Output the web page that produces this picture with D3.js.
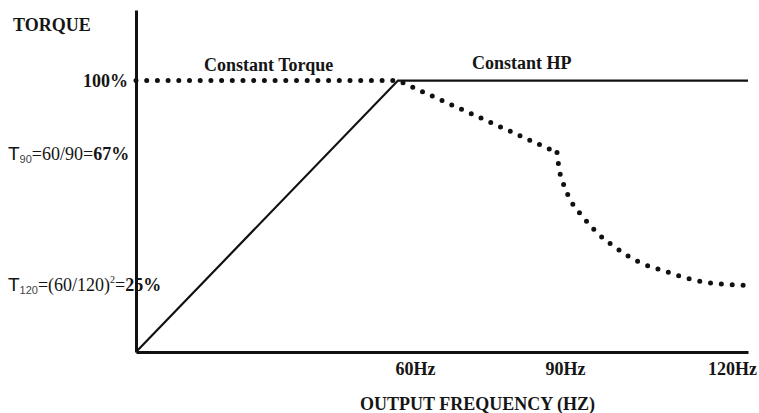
<!DOCTYPE html>
<html>
<head>
<meta charset="utf-8">
<script src="https://cdn.jsdelivr.net/npm/d3@7/dist/d3.min.js"></script>
<style>
  body { margin: 0; background: #fff; }
  text { font-family: "Liberation Serif", "Times New Roman", serif; fill: #151515; }
</style>
</head>
<body>
<script>
// values
var freq_ticks = [60, 90, 120];
var freq_labels = ["60Hz", "90Hz", "120Hz"];
var torque_ticks = [100];

// solid line: motor output (ramp to 60Hz, then constant)
var solid_freq = [0, 60, 120];
var solid_torque = [0, 100, 100];

// dotted line: available torque, straight part then the curve
var dot_freq = [0, 60, 90];
var dot_torque = [100, 100, 73.5];
var curve_freq = [90, 90.3, 91, 92, 94, 96.5, 99.5, 103, 107, 111, 115, 119.4];
var curve_torque = [73.5, 68, 62, 56.5, 50, 43.5, 38, 33, 29.8, 26.8, 25.2, 24.6];

var width = 759, height = 413;

var svg = d3.select("body").append("svg")
    .attr("width", width)
    .attr("height", height);

// the drawing is not to scale on the frequency axis
var x = d3.scaleLinear()
    .domain([0, 60, 90, 120])
    .range([136, 398, 557, 748]);

var y = d3.scaleLinear()
    .domain([0, 126])
    .range([352, 10]);

// y axis
var yAxis = svg.append("g")
    .attr("transform", "translate(" + x(0) + ",0)")
    .call(d3.axisLeft(y).tickValues(torque_ticks).tickSize(0).tickPadding(8)
      .tickFormat(function(d) { return d + "%"; }));
yAxis.select(".domain").attr("stroke", "#111").attr("stroke-width", 3);
yAxis.selectAll("text")
    .attr("font-family", "Liberation Serif")
    .attr("font-weight", "bold")
    .attr("font-size", "18px")
    .attr("dy", "0.34em")
    .attr("fill", "#151515");

// x axis
var label_dx = [17, 8, -16];
var xAxis = svg.append("g")
    .attr("transform", "translate(0," + y(0) + ")")
    .call(d3.axisBottom(x).tickValues(freq_ticks).tickSize(0).tickPadding(10)
      .tickFormat(function(d, i) { return freq_labels[i]; }));
xAxis.select(".domain").attr("stroke", "#111").attr("stroke-width", 3);
xAxis.selectAll("text")
    .attr("font-family", "Liberation Serif")
    .attr("font-weight", "bold")
    .attr("font-size", "18px")
    .attr("fill", "#151515")
    .attr("dx", function(d, i) { return label_dx[i]; });

// solid line
var line = d3.line()
    .x(function(d) { return x(d[0]); })
    .y(function(d) { return y(d[1]); });

svg.append("path")
    .datum(d3.zip(solid_freq, solid_torque))
    .attr("d", line)
    .attr("fill", "none")
    .attr("stroke", "#111")
    .attr("stroke-width", 2.2);

// dotted lines
svg.append("path")
    .datum(d3.zip(dot_freq, dot_torque))
    .attr("d", line)
    .attr("fill", "none")
    .attr("stroke", "#111")
    .attr("stroke-width", 5)
    .attr("stroke-linecap", "round")
    .attr("stroke-dasharray", "0,10.7");

var curve = d3.line()
    .x(function(d) { return x(d[0]); })
    .y(function(d) { return y(d[1]); })
    .curve(d3.curveMonotoneX);

svg.append("path")
    .datum(d3.zip(curve_freq, curve_torque))
    .attr("d", curve)
    .attr("fill", "none")
    .attr("stroke", "#111")
    .attr("stroke-width", 5)
    .attr("stroke-linecap", "round")
    .attr("stroke-dasharray", "0,10.9")
    .attr("stroke-dashoffset", -10.9);

// titles
svg.append("text")
    .attr("x", 13)
    .attr("y", 31)
    .attr("font-weight", "bold")
    .attr("font-size", "18px")
    .text("TORQUE");

svg.append("text")
    .attr("x", 360)
    .attr("y", 410)
    .attr("font-weight", "bold")
    .attr("font-size", "18px")
    .text("OUTPUT FREQUENCY (HZ)");

svg.append("text")
    .attr("x", 204)
    .attr("y", 71)
    .attr("font-weight", "bold")
    .attr("font-size", "18px")
    .text("Constant Torque");

svg.append("text")
    .attr("x", 472)
    .attr("y", 69)
    .attr("font-weight", "bold")
    .attr("font-size", "18px")
    .text("Constant HP");

// T90 note
var t90 = svg.append("text")
    .attr("x", 8)
    .attr("y", y(73.5) + 7)
    .attr("font-size", "18px");
t90.append("tspan").attr("font-family", "Liberation Sans").attr("font-size", "19px").text("T");
t90.append("tspan").attr("font-family", "Liberation Sans").attr("font-size", "11px")
    .attr("dy", 3).attr("fill", "#444").text("90");
t90.append("tspan").attr("dy", -3).text("=60/90=");
t90.append("tspan").attr("font-weight", "bold").text("67%");

// T120 note
var t120 = svg.append("text")
    .attr("x", 8)
    .attr("y", y(25) + 7)
    .attr("font-size", "18px");
t120.append("tspan").attr("font-family", "Liberation Sans").attr("font-size", "19px").text("T");
t120.append("tspan").attr("font-family", "Liberation Sans").attr("font-size", "11px")
    .attr("dy", 3).attr("fill", "#444").text("120");
t120.append("tspan").attr("dy", -3).text("=(60/120)");
t120.append("tspan").attr("font-size", "10px").attr("dy", -8).text("2");
t120.append("tspan").attr("dy", 8).text("=");
t120.append("tspan").attr("font-weight", "bold").text("25%");
</script>
</body>
</html>
